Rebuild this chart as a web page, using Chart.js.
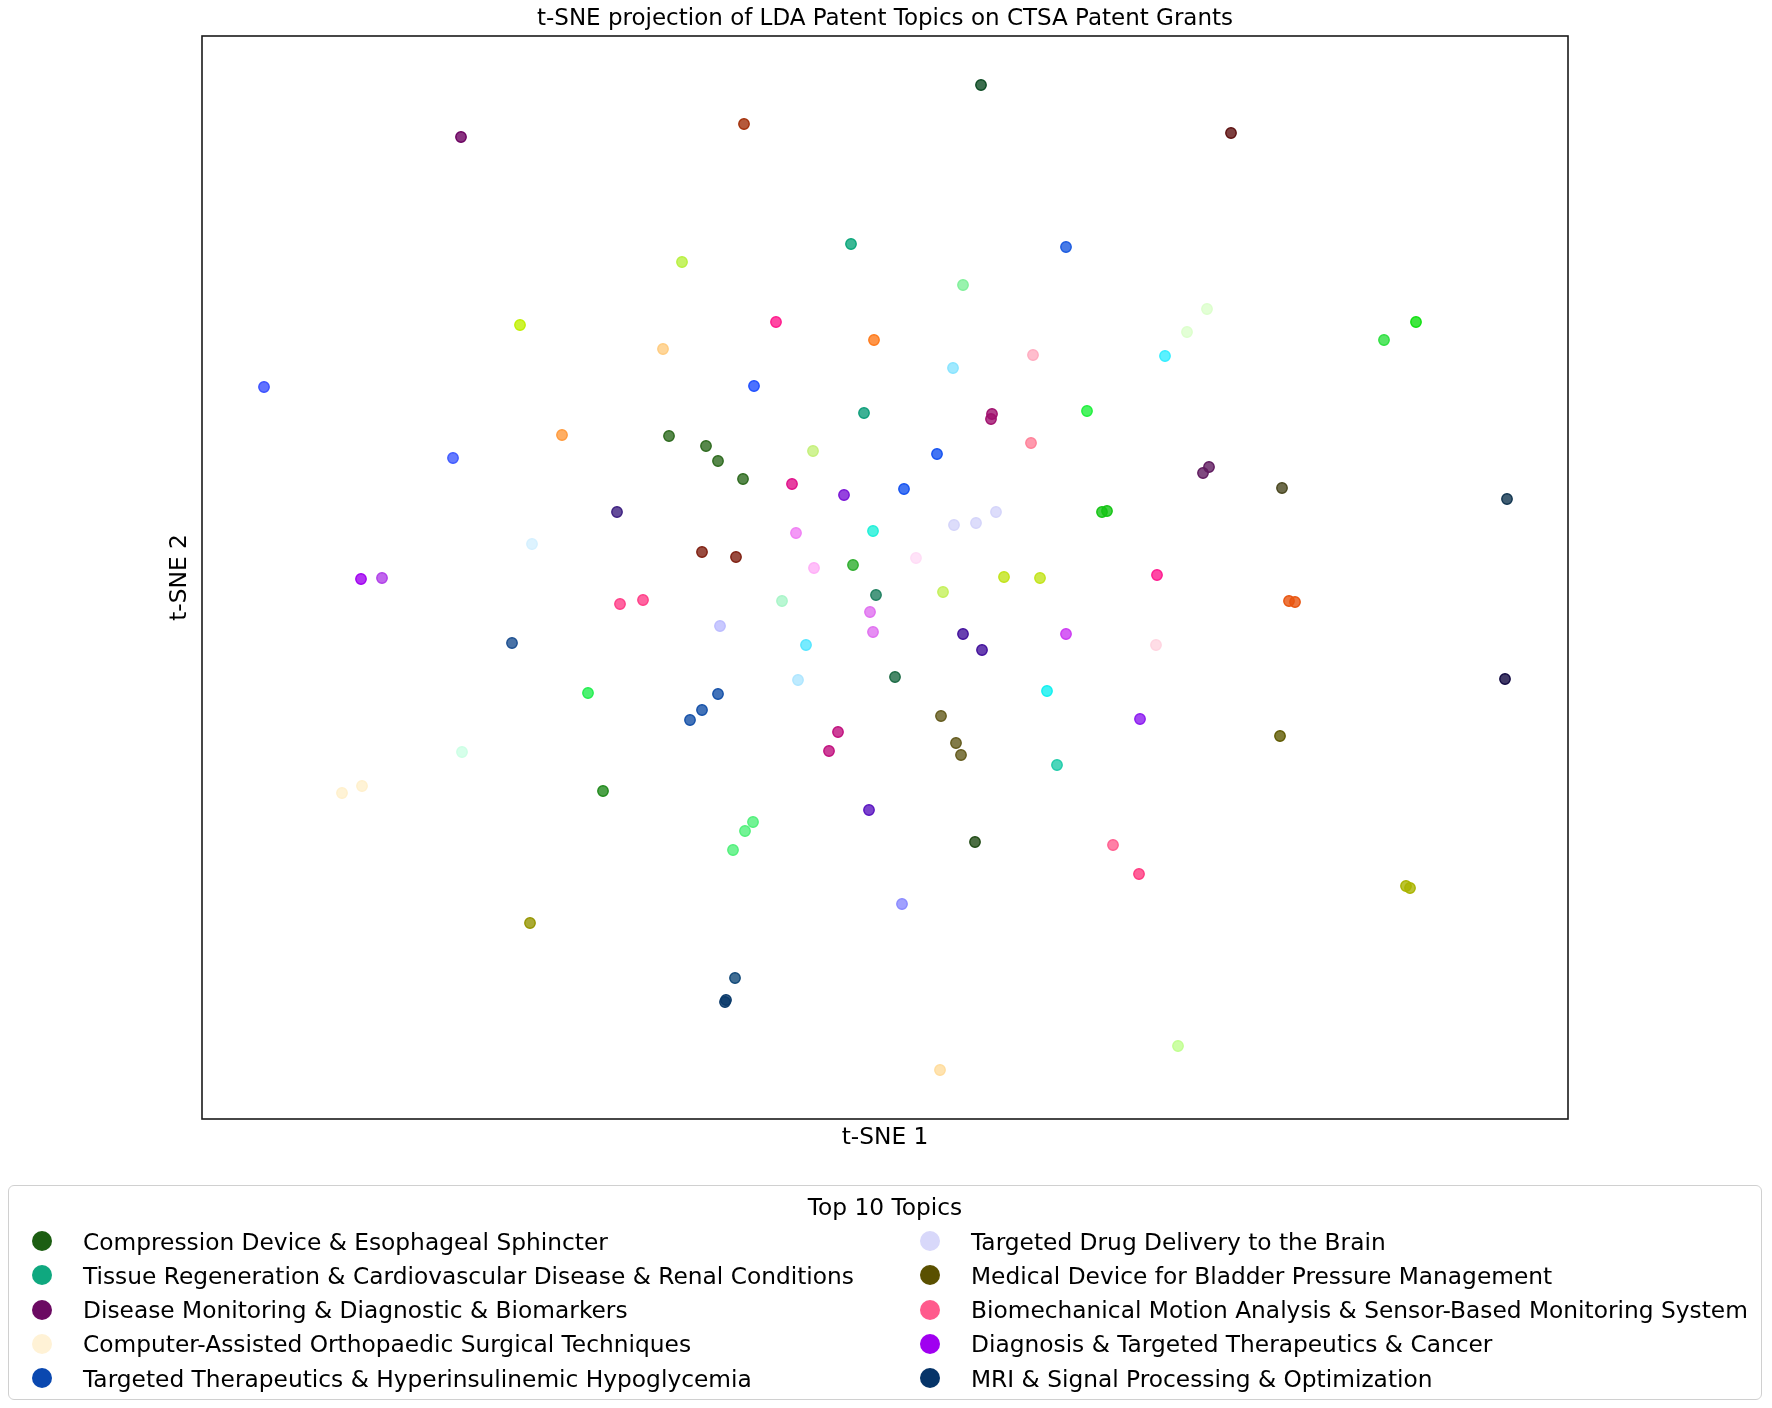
<!DOCTYPE html>
<html lang="en">

<head>
  <meta charset="UTF-8" />
  <title>t-SNE projection of LDA Patent Topics</title>
  <script src="https://cdn.jsdelivr.net/npm/chart.js"></script>
  <style>
    html, body { margin: 0; padding: 0; background: #fff; }
    body { width: 1772px; height: 1408px; position: relative; overflow: hidden; font-family: "DejaVu Sans", sans-serif; }
    #wrap { position: absolute; left: 0; top: 0; width: 1772px; height: 1408px; }
    #legend {
      position: absolute; left: 8px; top: 1185px; width: 1754px; height: 215px;
      box-sizing: border-box; border: 1.5px solid #d0d0d0; border-radius: 6px; background: #fff;
      font-size: 23.3px; color: #000;
    }
    #legend .ttl { position: absolute; left: 0; right: 0; top: 7px; text-align: center; line-height: 28px; }
    #legend .item { position: absolute; height: 34px; display: flex; align-items: center; white-space: nowrap; }
    #legend .dot { width: 20px; height: 20px; border-radius: 50%; margin-right: 31px; flex: none; }
  </style>
</head>

<body>
  <div id="wrap"><canvas id="chart"></canvas></div>
  <div id="legend"><div class="ttl">Top 10 Topics</div></div>

  <script>
    // t-SNE coordinates (one point per topic)
    const tsneX = [
      -42.4, -36.5, -62.1, 9.6, -14.1, -3.4, 18.1, -20.3, 7.8, -10.9,
      -22.2, -1.1, 6.8, 14.8, -13.1, 34.6, 32.2, 30.2, 28.0, 53.1,
      49.9, -32.3, -43.2, -26.8, -35.3, -52.4, -50.3, -26.5, -24.2, -37.3,
      -29.7, -42.3, -2.1, 10.7, 10.6, 20.2, -21.6, -17.9, -16.7, -14.2,
      -7.2, 5.2, 14.6, -9.3, -4.1, 1.9, 11.1, 9.1, 6.9, 21.7,
      22.2, -8.9, -1.2, -18.3, -14.9, -7.1, -3.2, 3.1, 11.9, 15.5,
      5.8, -10.3, -0.9, -1.5, -1.2, -16.5, 7.8, 9.7, 18.1, -7.9,
      -8.7, 1.0, 16.2, -16.7, -18.3, -19.5, 5.6, 7.1, 7.6, -4.7,
      -5.6, 32.4, 31.8, 39.7, 62.2, 27.2, 40.4, 41.0, 27.1, 62.0,
      25.5, 39.5, -54.3, -52.3, -28.2, -35.5, 17.2, -1.6, -13.2, -14.0,
      -15.2, 9.0, 22.8, 1.7, -15.0, -15.9, -16.0, 5.5, 25.4, 52.1,
      52.5, 29.3
    ];
    const tsneY = [
      44.1, 25.3, 19.1, 49.3, 45.4, 33.4, 33.1, 31.6, 29.3, 25.6,
      22.9, 23.8, 21.0, 22.3, 19.2, 44.5, 26.9, 24.6, 22.2, 25.6,
      23.8, 14.3, 12.0, 6.6, 3.4, -0.1, 0.0, -2.6, -2.2, -6.5,
      -11.5, -17.4, 16.5, 16.4, 15.9, 16.7, 14.2, 13.2, 11.7, 9.9,
      12.7, 12.4, 13.5, 9.4, 8.3, 8.9, 6.6, 5.5, 5.3, 6.6,
      6.7, 4.5, 4.7, 2.6, 2.1, 1.0, 1.3, 2.0, 0.1, 0.0,
      -1.4, -2.3, -1.7, -3.4, -5.4, -4.8, -5.6, -7.2, -5.6, -6.7,
      -10.2, -9.9, -11.3, -11.6, -13.2, -14.2, -13.8, -16.5, -17.7, -15.4,
      -17.3, 11.1, 10.5, 9.0, 7.9, 0.3, -2.3, -2.4, -6.7, -10.1,
      -14.1, -15.8, -21.5, -20.8, -21.3, -34.5, -18.7, -23.2, -24.4, -25.3,
      -27.2, -26.4, -26.7, -32.6, -40.0, -42.2, -42.4, -49.2, -29.6, -30.8,
      -31.0, -46.8
    ];
    const pointColors = [
      "#6b0060", "#c0f000", "#3a50ff", "#0b4a22", "#a3300a", "#0aa67a", "#1a5ae0", "#b8f040", "#80f09a", "#ff1a8c",
      "#ffcc80", "#ff7a1a", "#88e4ff", "#ffacc0", "#1f4fff", "#5c0f0f", "#dcffcc", "#dcffcc", "#33eeff", "#10e010",
      "#2ee040", "#ff9a3c", "#3f5aff", "#3d1f80", "#d4f0ff", "#a000f0", "#b040e8", "#ff3f88", "#ff3f88", "#1c4f90",
      "#22ee4f", "#ccffe5", "#0e9e7a", "#a0106e", "#a0106e", "#1ff03c", "#2d6a1e", "#2d6a1e", "#2d6a1e", "#2d6a1e",
      "#c4f07a", "#1452f0", "#ff8098", "#e0108a", "#7a14d6", "#1452f0", "#d4d4fa", "#d4d4fa", "#d4d4fa", "#14c414",
      "#14c414", "#f080f4", "#1ff0d8", "#7f1f10", "#7f1f10", "#ffaff8", "#2fae2f", "#ffdcf6", "#c2e41a", "#c2e41a",
      "#c4f05a", "#a8f5c8", "#1f8060", "#e070f0", "#e070f0", "#bcbcff", "#42109c", "#42109c", "#cc3af2", "#55e6ff",
      "#aee6ff", "#1b6a44", "#10f0f0", "#1450a8", "#1450a8", "#1450a8", "#635a1c", "#635a1c", "#635a1c", "#c0107e",
      "#c0107e", "#5f1a5f", "#5f1a5f", "#48461e", "#10344f", "#ff1a8f", "#e8540e", "#e8540e", "#ffd4e0", "#100840",
      "#8c1af0", "#5f5a00", "#fff0cc", "#fff0cc", "#218a1c", "#959500", "#20ccaa", "#5a14c0", "#50f07a", "#50f07a",
      "#50f07a", "#1f4a14", "#ff5f90", "#8a8aff", "#104878", "#0a3a6a", "#0a3a6a", "#ffdc9c", "#ff3a80", "#aab400",
      "#aab400", "#c0ff90"
    ];
    const xRange = [-68.3, 68.3];
    const yRange = [-54.1, 54.2];

    // Top 10 topics for the legend
    const topicNames = [
      "Compression Device & Esophageal Sphincter",
      "Tissue Regeneration & Cardiovascular Disease & Renal Conditions",
      "Disease Monitoring & Diagnostic & Biomarkers",
      "Computer-Assisted Orthopaedic Surgical Techniques",
      "Targeted Therapeutics & Hyperinsulinemic Hypoglycemia",
      "Targeted Drug Delivery to the Brain",
      "Medical Device for Bladder Pressure Management",
      "Biomechanical Motion Analysis & Sensor-Based Monitoring System",
      "Diagnosis & Targeted Therapeutics & Cancer",
      "MRI & Signal Processing & Optimization"
    ];
    const topicColors = [
      "#1c5e12", "#0fa87f", "#6b0a62", "#fff2d6", "#0a48b0",
      "#d8d8fa", "#5a5000", "#ff5a8c", "#a000f0", "#063468"
    ];

    // marco completo + títulos de ejes
    const framePlugin = {
      id: "frame",
      afterDraw(chart) {
        const { ctx, chartArea: a } = chart;
        ctx.save();
        ctx.strokeStyle = "#1a1a1a";
        ctx.lineWidth = 1.6;
        ctx.strokeRect(a.left, a.top, a.right - a.left, a.bottom - a.top);
        ctx.fillStyle = "#000";
        ctx.textAlign = "center";
        ctx.textBaseline = "middle";
        const cx = (a.left + a.right) / 2;
        const cy = (a.top + a.bottom) / 2;
        ctx.font = '23px "DejaVu Sans"';
        ctx.fillText("t-SNE projection of LDA Patent Topics on CTSA Patent Grants", cx, a.top - 17);
        ctx.font = '23.3px "DejaVu Sans"';
        ctx.fillText("t-SNE 1", cx, a.bottom + 19);
        ctx.translate(a.left - 22, cy);
        ctx.rotate(-Math.PI / 2);
        ctx.fillText("t-SNE 2", 0, 0);
        ctx.restore();
      }
    };

    const ctx = document.getElementById("chart").getContext("2d");
    new Chart(ctx, {
      type: "scatter",
      data: {
        datasets: [{
          data: tsneX.map((x, i) => ({ x: x, y: tsneY[i] })),
          backgroundColor: pointColors.map(c => c + "cc"),
          borderColor: pointColors,
          borderWidth: 1.4,
          pointRadius: 5.2,
        }]
      },
      options: {
        responsive: true,
        maintainAspectRatio: false,
        animation: false,
        layout: { padding: { left: 202, top: 36, right: 204, bottom: 289 } },
        plugins: { legend: { display: false }, tooltip: { enabled: false } },
        scales: {
          x: { display: false, min: xRange[0], max: xRange[1] },
          y: { display: false, min: yRange[0], max: yRange[1] }
        }
      },
      plugins: [framePlugin]
    });

    // Leyenda en dos columnas
    const legend = document.getElementById("legend");
    const colX = [23, 911];
    topicNames.forEach((name, i) => {
      const col = Math.floor(i / 5);
      const row = i % 5;
      const item = document.createElement("div");
      item.className = "item";
      item.style.left = colX[col] + "px";
      item.style.top = (38 + row * 34.3) + "px";
      const dot = document.createElement("span");
      dot.className = "dot";
      dot.style.background = topicColors[i];
      const label = document.createElement("span");
      label.textContent = name;
      item.appendChild(dot);
      item.appendChild(label);
      legend.appendChild(item);
    });
  </script>
</body>

</html>
